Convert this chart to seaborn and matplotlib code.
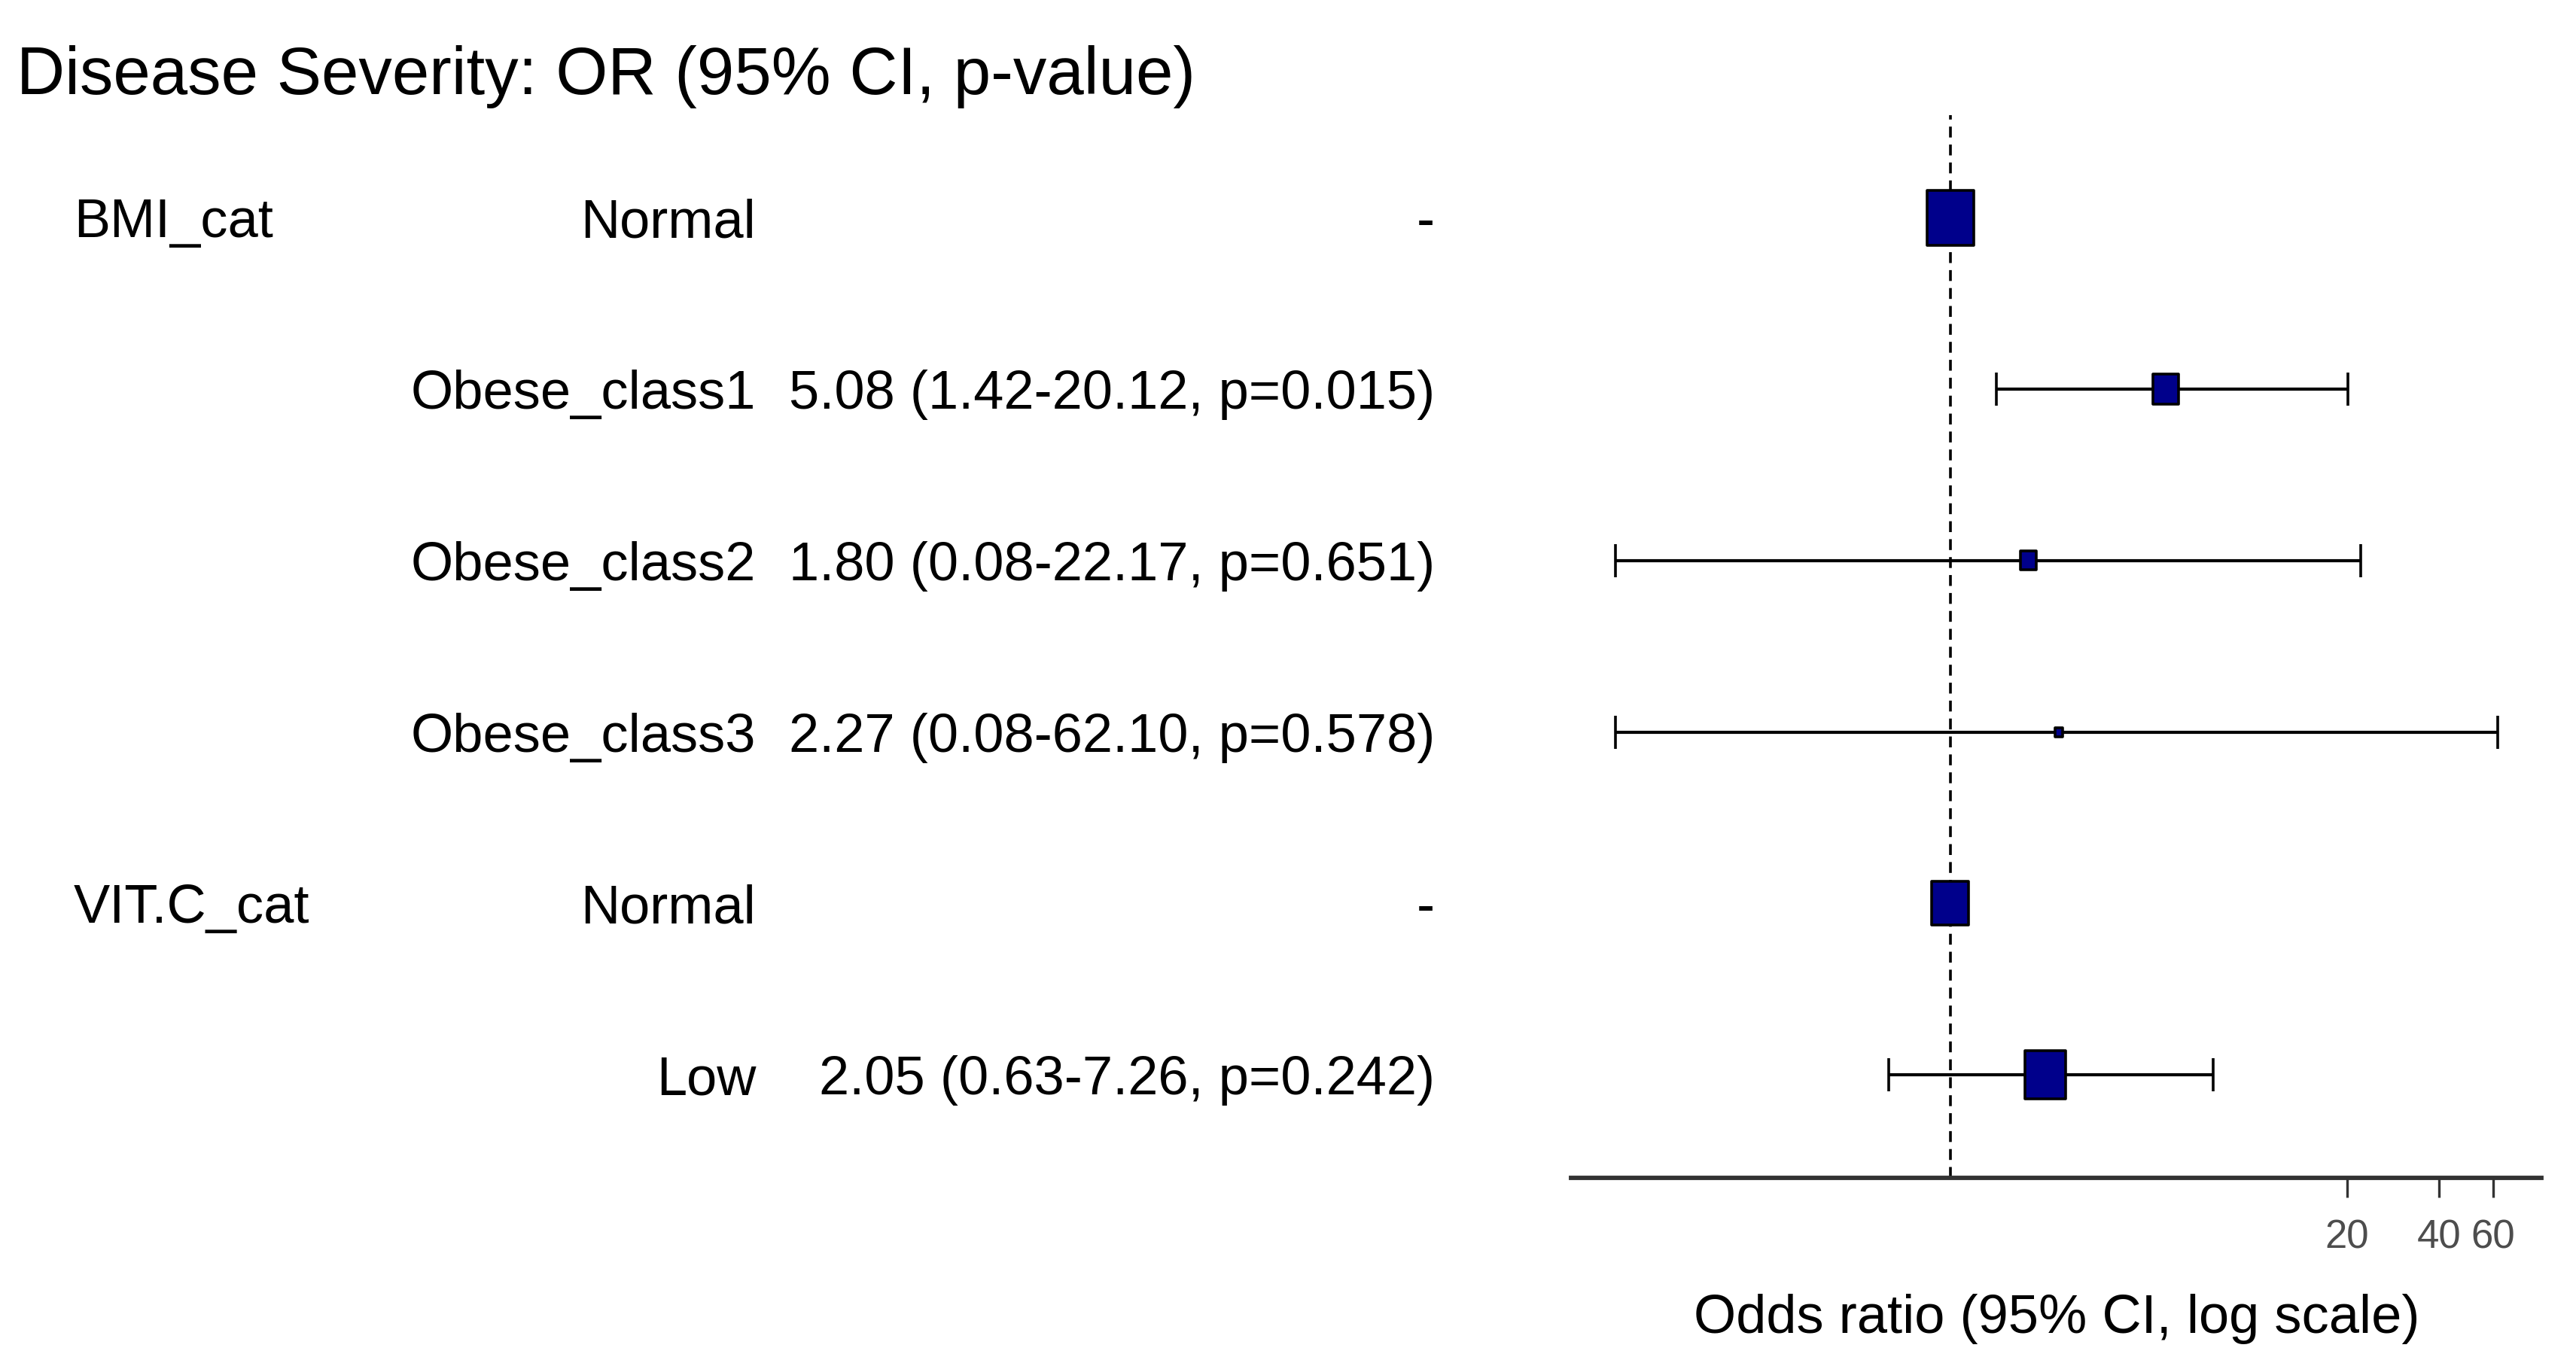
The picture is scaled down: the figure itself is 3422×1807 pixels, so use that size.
import matplotlib.pyplot as plt
import numpy as np
import pandas as pd
import seaborn as sns
from matplotlib.markers import MarkerStyle
from matplotlib.transforms import Affine2D, blended_transform_factory

# Dados do modelo
variables = ['BMI_cat', '', '', '', 'VIT.C_cat', '']
levels = ['Normal', 'Obese_class1', 'Obese_class2', 'Obese_class3', 'Normal', 'Low']
odds = [1.0, 5.08, 1.80, 2.27, 1.0, 2.05]
ci_low = [np.nan, 1.42, 0.08, 0.08, np.nan, 0.63]
ci_high = [np.nan, 20.12, 22.17, 62.10, np.nan, 7.26]
p_values = [np.nan, 0.015, 0.651, 0.578, np.nan, 0.242]
x_ticks = [20, 40, 60]

title = 'Disease Severity: OR (95% CI, p-value)'
x_label = 'Odds ratio (95% CI, log scale)'

# tamanho dos quadrados (area em pt^2)
box_area = [2000, 605, 234, 55, 1253, 1521]

df = pd.DataFrame({'row': range(len(levels)), 'odds': odds, 'lo': ci_low,
                   'hi': ci_high, 'p': p_values, 'box': box_area})


def label_for(r):
    if np.isnan(r['lo']):
        return '-'
    return f"{r['odds']:.2f} ({r['lo']:.2f}-{r['hi']:.2f}, p={r['p']:.3f})"


df['text'] = df.apply(label_for, axis=1)

sns.set_style('white')
plt.rcParams['font.family'] = ['Liberation Sans', 'DejaVu Sans']
plt.rcParams['text.color'] = 'black'
plt.rcParams['axes.labelcolor'] = 'black'

fig = plt.figure(figsize=(34.22, 18.07), dpi=100)
ax = fig.add_axes([0.610, 0.134, 0.3766, 0.7815])

# Linha de referencia
ax.axvline(1, color='black', ls=(0, (4, 2.6)), lw=2.6, zorder=1)

# Intervalos de confianca
ci = df.dropna(subset=['lo'])
ax.errorbar(ci['odds'], ci['row'],
            xerr=[ci['odds'] - ci['lo'], ci['hi'] - ci['odds']],
            fmt='none', ecolor='black', elinewidth=3, capsize=16,
            capthick=2.6, zorder=2)

# Quadrados
box_marker = MarkerStyle('s', transform=Affine2D().scale(1, 1.18))
sns.scatterplot(data=df, x='odds', y='row', size='box',
                sizes=(min(box_area), max(box_area)),
                size_norm=(min(box_area), max(box_area)),
                marker=box_marker, color='#00008B', edgecolor='black',
                linewidth=2.6, legend=False, ax=ax, zorder=3)

# Eixos
ax.set_xscale('log')
lo_log = np.log(df['lo'].min())
hi_log = np.log(df['hi'].max())
pad = 0.05 * (hi_log - lo_log)
ax.set_xlim(np.exp(lo_log - pad), np.exp(hi_log + pad))
ax.set_ylim(len(levels) - 0.4, -0.6)
ax.set_xticks(x_ticks)
ax.set_xticklabels([str(t) for t in x_ticks])
ax.minorticks_off()
ax.set_yticks([])
ax.set_ylabel('')
ax.set_xlabel(x_label, fontsize=52, labelpad=36)
for s in ['top', 'right', 'left']:
    ax.spines[s].set_visible(False)
ax.spines['bottom'].set_linewidth(4.2)
ax.spines['bottom'].set_color('#333333')
ax.tick_params(axis='x', bottom=True, direction='out', length=19, width=2.4,
               color='#333333', labelsize=38, labelcolor='#4D4D4D', pad=20)

# Tabela de texto a esquerda
trans = blended_transform_factory(fig.transFigure, ax.transData)
for _, r in df.iterrows():
    i = r['row']
    ax.text(0.0286, i, variables[i], transform=trans, fontsize=52,
            ha='left', va='center_baseline')
    ax.text(0.2934, i, levels[i], transform=trans, fontsize=52,
            ha='right', va='center_baseline')
    ax.text(0.557, i, r['text'], transform=trans, fontsize=52,
            ha='right', va='center_baseline')

fig.text(0.0064, 0.931, title, fontsize=64, ha='left', va='baseline')

fig.savefig('out.png', dpi=100)
